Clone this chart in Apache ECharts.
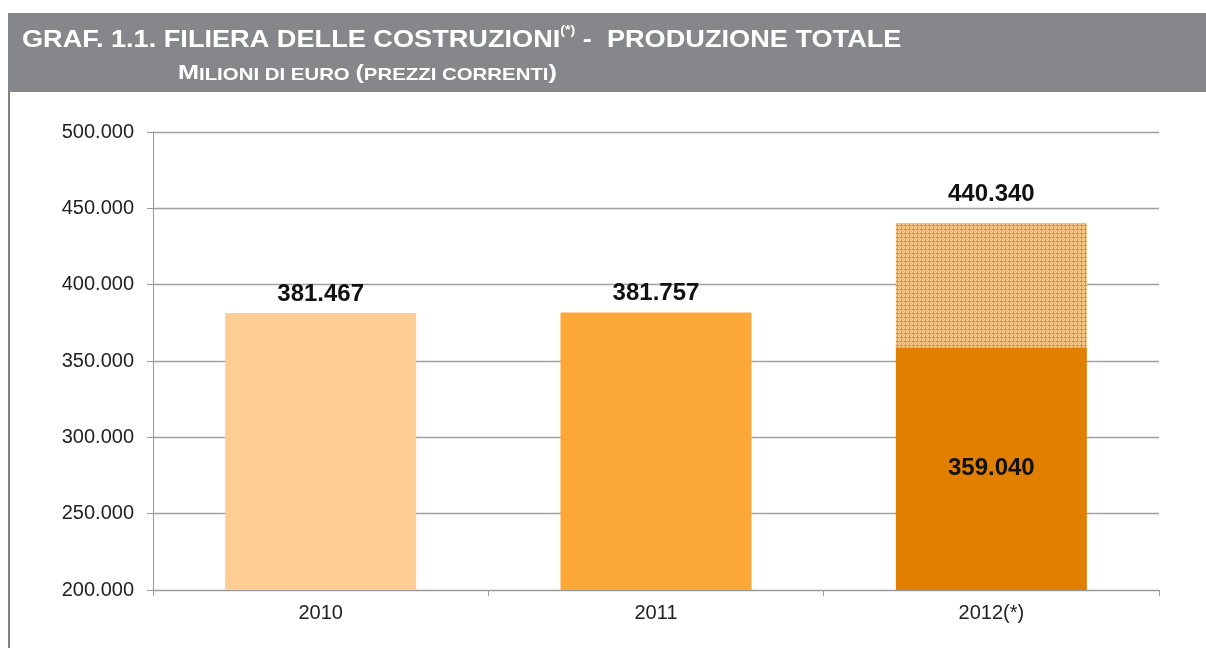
<!DOCTYPE html>
<html>
<head>
<meta charset="utf-8">
<script src="https://cdn.jsdelivr.net/npm/echarts@6/dist/echarts.min.js"></script>
<style>
html,body{margin:0;padding:0;background:#fff;}
#c{width:1206px;height:648px;}
</style>
</head>
<body>
<div id="c"></div>
<script>
// Data
var years = ['2010', '2011', '2012(*)'];
var baseValues = [381467, 381757, 359040];
var totals = [381467, 381757, 440340];
var barColors = ['#FDCD93', '#FBA838', '#E07F00'];
var yTicks = [200000, 250000, 300000, 350000, 400000, 450000, 500000];

function fmt(v) {
  return String(v).replace(/\B(?=(\d{3})+(?!\d))/g, '.');
}

// hatched pattern
var pc = document.createElement('canvas');
pc.width = 4; pc.height = 4;
var px = pc.getContext('2d');
px.fillStyle = '#FCCB8C';
px.fillRect(0, 0, 4, 4);
px.fillStyle = '#F08C0A';
px.fillRect(1, 0, 1, 3);
px.fillRect(0, 1, 3, 1);
px.fillStyle = '#F6AA48';
px.fillRect(3, 3, 1, 1);
px.fillRect(3, 1, 1, 1);
px.fillRect(1, 3, 1, 1);

var extra = totals.map(function (t, i) { return t > baseValues[i] ? t - baseValues[i] : null; });

var baseData = baseValues.map(function (v, i) {
  var inside = extra[i] !== null;
  return {
    value: v,
    itemStyle: { color: barColors[i] },
    label: inside ? { show: true, position: 'inside' } : { show: true, position: 'top', distance: 7 }
  };
});

var extraData = extra.map(function (v, i) {
  if (v === null) return null;
  return { value: v, total: totals[i] };
});

var FONT = 'Liberation Sans, Arial, sans-serif';

var chart = echarts.init(document.getElementById('c'), null, { renderer: 'canvas' });
chart.setOption({
  animation: false,
  backgroundColor: '#ffffff',
  graphic: [
    { type: 'rect', shape: { x: 8, y: 13, width: 1198, height: 79 }, style: { fill: '#86878A' }, z: 0 },
    { type: 'line', shape: { x1: 9, y1: 92, x2: 9, y2: 648 }, style: { stroke: '#808080', lineWidth: 2 } },
    {
      type: 'text', x: 22, y: 25, scaleX: 1.18, z: 10,
      style: {
        text: '{a|GRAF. 1.1. FILIERA DELLE COSTRUZIONI}{s|(*)}{a| -  PRODUZIONE TOTALE}',
        rich: {
          a: { fontFamily: FONT, fontWeight: 'bold', fontSize: 23, fill: '#ffffff', lineHeight: 27, verticalAlign: 'bottom' },
          s: { fontFamily: FONT, fontWeight: 'bold', fontSize: 12, fill: '#ffffff', lineHeight: 27, verticalAlign: 'top', padding: [0, 0, 15, 0] }
        }
      }
    },
    {
      type: 'text', x: 178, y: 60, scaleX: 1.2, z: 10,
      style: {
        text: '{b|M}{c|ILIONI DI EURO }{b|(}{c|PREZZI CORRENTI}{b|)}',
        rich: {
          b: { fontFamily: FONT, fontWeight: 'bold', fontSize: 21, fill: '#ffffff', lineHeight: 24, verticalAlign: 'bottom' },
          c: { fontFamily: FONT, fontWeight: 'bold', fontSize: 17, fill: '#ffffff', lineHeight: 24, verticalAlign: 'bottom' }
        }
      }
    }
  ],
  grid: { left: 153, right: 47, top: 132, bottom: 58, containLabel: false },
  xAxis: {
    type: 'category',
    data: years,
    axisLine: { lineStyle: { color: '#999999', width: 1 } },
    axisTick: { show: true, length: 6, alignWithLabel: false, lineStyle: { color: '#999999' } },
    axisLabel: { color: '#222222', fontSize: 20, fontFamily: FONT, margin: 13 }
  },
  yAxis: {
    type: 'value',
    min: yTicks[0],
    max: yTicks[yTicks.length - 1],
    interval: 50000,
    axisLine: { show: true, lineStyle: { color: '#999999', width: 1 } },
    axisTick: { show: true, length: 6, lineStyle: { color: '#999999' } },
    splitLine: { lineStyle: { color: '#A0A0A0', width: 1.3 } },
    axisLabel: { color: '#222222', fontSize: 20, fontFamily: FONT, margin: 19, formatter: function (v) { return fmt(v); } }
  },
  series: [
    {
      type: 'bar', stack: 'tot', barWidth: 191,
      data: baseData,
      label: { color: '#111111', fontWeight: 'bold', fontSize: 24, fontFamily: FONT, formatter: function (p) { return fmt(p.value); } }
    },
    {
      type: 'bar', stack: 'tot', barWidth: 191,
      data: extraData,
      itemStyle: { color: { image: pc, repeat: 'repeat' } },
      label: { show: true, position: 'top', distance: 17, color: '#111111', fontWeight: 'bold', fontSize: 24, fontFamily: FONT, formatter: function (p) { return fmt(p.data.total); } }
    }
  ]
});
</script>
</body>
</html>
